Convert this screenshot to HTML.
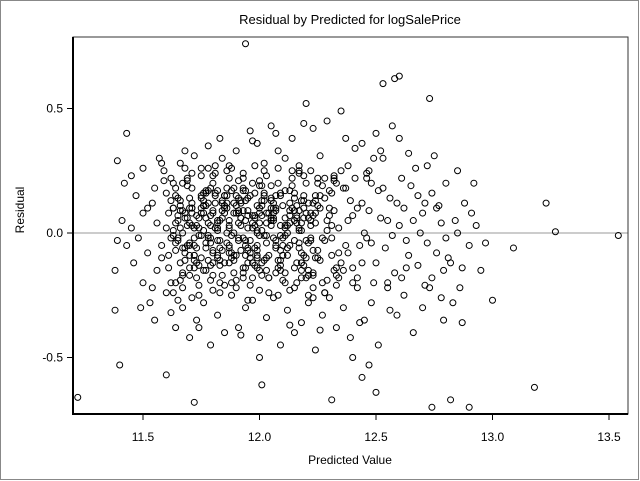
<!DOCTYPE html>
<html><head><meta charset="utf-8"><style>
html,body{margin:0;padding:0;background:#fff}
svg{display:block;font-family:"Liberation Sans",Arial,sans-serif}
</style></head><body>
<svg id="chart" width="640" height="481" viewBox="0 0 640 481">
<rect x="0.5" y="0.5" width="638" height="479" fill="#fff" stroke="#888"/>
<text x="350" y="24" text-anchor="middle" font-size="13">Residual by Predicted for logSalePrice</text>
<text x="350" y="464" text-anchor="middle" font-size="12">Predicted Value</text>
<text transform="translate(24,210) rotate(-90)" text-anchor="middle" font-size="12">Residual</text>
<g id="plot"></g>
</svg>
<script>
const xTicks = [11.5, 12.0, 12.5, 13.0, 13.5];
const xTickLabels = ["11.5", "12.0", "12.5", "13.0", "13.5"];
const yTicks = [0.5, 0.0, -0.5];
const yTickLabels = ["0.5", "0.0", "-0.5"];
const coreX = [
11.65,11.68,11.71,11.74,11.77,11.80,11.83,11.86,11.89,11.92,11.95,11.98,12.01,12.04,12.07,12.10,12.13,12.16,12.19,12.22,
11.66,11.70,11.72,11.76,11.78,11.82,11.84,11.87,11.91,11.93,11.97,11.99,12.03,12.05,12.09,12.11,12.15,12.17,12.21,12.23,
11.64,11.67,11.70,11.73,11.76,11.79,11.82,11.85,11.88,11.91,11.94,11.97,12.00,12.03,12.06,12.09,12.12,12.15,12.18,12.21,
11.65,11.69,11.71,11.75,11.77,11.81,11.83,11.87,11.89,11.93,11.95,11.99,12.01,12.05,12.07,12.11,12.13,12.17,12.19,12.23,
11.67,11.70,11.73,11.76,11.79,11.82,11.85,11.88,11.91,11.94,11.97,12.00,12.03,12.06,12.09,12.12,12.15,12.18,12.21,12.24,
11.64,11.68,11.70,11.74,11.76,11.80,11.82,11.86,11.88,11.92,11.94,11.98,12.00,12.04,12.06,12.10,12.12,12.16,12.18,12.22,
11.66,11.69,11.72,11.75,11.78,11.81,11.84,11.87,11.90,11.93,11.96,11.99,12.02,12.05,12.08,12.11,12.14,12.17,12.20,12.23,
11.63,11.66,11.69,11.72,11.75,11.78,11.81,11.84,11.87,11.90,11.93,11.96,11.99,12.02,12.05,12.08,12.11,12.14,12.17,12.20,
11.67,11.71,11.73,11.77,11.79,11.83,11.85,11.89,11.91,11.95,11.97,12.01,12.03,12.07,12.09,12.13,12.15,12.19,12.21,12.25,
11.65,11.68,11.71,11.74,11.77,11.80,11.83,11.86,11.89,11.92,11.95,11.98,12.01,12.04,12.07,12.10,12.13,12.16,12.19,12.22];
const coreY = [
0.05,-0.08,0.12,0.02,-0.15,0.09,-0.03,0.18,-0.11,0.06,0.14,-0.06,0.01,-0.18,0.10,-0.02,0.07,-0.12,0.15,0.03,
-0.12,0.10,-0.02,0.16,0.04,-0.09,0.13,-0.05,0.08,-0.16,0.02,0.11,-0.10,0.05,-0.07,0.17,-0.14,0.09,-0.04,0.12,
0.15,0.00,-0.17,0.07,0.11,-0.04,0.05,0.10,-0.20,0.14,-0.09,0.04,0.19,-0.01,0.12,-0.11,0.03,0.16,-0.08,-0.15,
-0.03,0.19,0.08,-0.10,-0.06,0.15,-0.13,0.02,0.12,-0.02,0.09,-0.14,0.07,0.13,-0.16,0.06,-0.05,0.01,0.10,-0.07,
0.09,-0.14,0.03,0.13,0.18,0.01,0.08,-0.08,0.04,0.17,-0.12,0.08,-0.04,0.10,0.03,-0.06,0.14,-0.18,0.06,0.15,
-0.07,0.06,0.14,-0.13,0.08,-0.17,0.17,0.12,-0.01,-0.07,0.05,0.16,-0.15,-0.09,0.08,0.11,-0.09,0.04,-0.12,-0.03,
0.11,-0.05,-0.09,0.10,-0.11,0.12,-0.07,-0.12,0.15,0.09,-0.03,0.00,0.13,0.06,-0.11,0.02,0.19,-0.06,0.08,0.07,
0.01,0.13,0.06,-0.05,0.14,-0.01,0.02,0.06,-0.06,0.11,0.18,-0.10,-0.07,0.15,0.05,-0.14,-0.01,0.10,0.02,-0.10,
-0.16,0.03,-0.12,0.17,-0.02,0.05,0.11,-0.16,0.09,-0.12,0.07,0.13,0.04,-0.03,0.16,0.09,0.05,-0.09,-0.17,0.11,
0.07,-0.11,0.10,-0.01,0.06,-0.12,-0.06,0.15,-0.09,0.03,-0.07,0.06,-0.12,0.08,-0.05,-0.09,0.12,0.07,0.13,-0.02];
const wideX = [
11.62,11.66,11.70,11.74,11.78,11.81,11.85,11.89,11.93,11.97,12.00,12.04,12.08,12.12,12.16,12.19,12.23,12.27,12.31,12.35,
11.63,11.67,11.71,11.75,11.79,11.82,11.86,11.90,11.94,11.98,12.01,12.05,12.09,12.13,12.17,12.20,12.24,12.28,12.32,12.36,
11.64,11.68,11.72,11.76,11.80,11.83,11.87,11.91,11.95,11.99,12.02,12.06,12.10,12.14,12.18,12.21,12.25,12.29,12.33,12.37,
11.61,11.65,11.69,11.73,11.77,11.80,11.84,11.88,11.92,11.96,11.99,12.03,12.07,12.11,12.15,12.18,12.22,12.26,12.30,12.34,
11.62,11.67,11.70,11.75,11.78,11.82,11.85,11.90,11.93,11.98,12.00,12.05,12.08,12.13,12.16,12.20,12.23,12.28,12.31,12.38,
11.63,11.66,11.71,11.74,11.79,11.81,11.86,11.89,11.94,11.97,12.01,12.04,12.09,12.12,12.17,12.19,12.24,12.27,12.32,12.40,
11.64,11.67,11.72,11.75,11.80,11.82,11.87,11.90,11.95,11.98,12.02,12.05,12.10,12.13,12.18,12.20,12.25,12.28,12.33,12.42,
11.62,11.65,11.70,11.73,11.78,11.80,11.85,11.88,11.93,11.96,12.00,12.03,12.08,12.11,12.16,12.18,12.23,12.26,12.31,12.44,
11.63,11.68,11.71,11.76,11.79,11.83,11.86,11.91,11.94,11.99,12.01,12.06,12.09,12.14,12.17,12.21,12.24,12.29,12.32,12.46,
11.64,11.69,11.72,11.77,11.80,11.84,11.87,11.92,11.95,12.00,12.02,12.07,12.10,12.15,12.18,12.22,12.25,12.30,12.33,12.48];
const wideY = [
0.22,-0.19,0.04,-0.25,0.17,0.27,-0.21,0.00,0.24,-0.18,0.21,-0.24,0.26,0.00,-0.20,0.23,-0.26,0.19,-0.02,0.25,
-0.24,0.20,-0.26,0.23,-0.19,0.02,0.25,-0.22,-0.03,0.27,-0.17,0.19,-0.01,-0.23,0.24,-0.18,0.04,-0.24,0.21,-0.15,
0.04,0.26,-0.14,0.01,0.23,-0.24,0.03,0.21,-0.27,0.01,0.25,-0.02,-0.19,0.22,0.01,-0.25,0.20,0.05,-0.21,0.18,
-0.09,-0.02,0.21,-0.18,-0.04,0.20,-0.17,0.26,0.06,-0.21,-0.05,0.23,0.09,-0.16,-0.22,0.13,0.25,-0.11,0.17,-0.08,
0.13,-0.17,-0.05,0.08,0.26,-0.10,0.15,-0.19,0.17,0.07,-0.23,0.03,-0.25,0.17,0.11,-0.03,-0.16,0.22,-0.09,0.05,
-0.01,0.09,0.18,-0.21,-0.13,0.16,-0.04,0.08,-0.14,0.20,0.11,-0.18,0.15,-0.06,0.27,-0.13,0.08,-0.02,0.23,-0.20,
0.18,-0.22,0.02,0.15,-0.08,-0.03,0.22,-0.09,0.02,-0.13,0.16,0.10,-0.09,0.04,-0.12,0.20,-0.07,0.14,-0.14,0.10,
-0.20,0.14,-0.09,-0.06,0.12,0.08,-0.12,0.17,-0.18,0.15,-0.01,-0.15,0.20,-0.20,0.06,0.04,-0.22,0.10,0.03,-0.12,
0.10,-0.06,0.24,-0.15,0.03,-0.20,0.10,-0.02,0.13,-0.09,0.19,0.06,-0.13,0.25,-0.04,-0.17,0.13,-0.19,0.09,0.22,
-0.04,0.03,-0.11,0.11,-0.23,0.12,-0.08,0.13,-0.06,0.04,-0.11,0.15,-0.05,0.09,-0.15,0.08,-0.10,0.07,-0.17,-0.04];
const otherPts = [
[11.22,-0.66],[11.94,0.76],[13.54,-0.01],[13.27,0.005],[13.23,0.12],[13.18,-0.62],[13.09,-0.06],[13.0,-0.27],[12.97,-0.04],[12.92,0.2],
[12.9,-0.7],[12.87,-0.36],[12.82,-0.67],[12.74,-0.7],[12.6,0.63],[12.58,0.62],[12.73,0.54],[12.53,0.6],[11.43,0.4],[11.39,0.29],
[11.38,-0.31],[11.4,-0.53],[11.6,-0.57],[11.72,-0.68],[12.01,-0.61],[12.31,-0.67],[12.5,-0.64],[12.44,-0.58],[12.47,-0.53],[12.4,-0.5],[12.0,-0.5],
[11.45,0.23],[11.47,0.15],[11.50,0.26],[11.52,0.10],[11.48,-0.02],[11.46,-0.12],[11.50,-0.20],[11.53,-0.28],[11.55,0.18],[11.57,0.30],
[11.58,-0.05],[11.56,-0.15],[11.59,0.25],[11.60,-0.24],[11.61,0.08],[11.62,-0.32],[11.63,0.20],[11.64,-0.38],[11.66,0.28],[11.67,-0.30],
[11.69,0.22],[11.70,-0.42],[11.72,0.31],[11.73,-0.35],[11.75,0.26],[11.76,-0.28],[11.78,0.35],[11.79,-0.45],[11.81,0.24],[11.82,-0.33],
[11.84,0.30],[11.85,-0.40],[11.87,0.27],[11.88,-0.25],[11.90,0.33],[11.91,-0.38],[11.93,0.22],[11.94,-0.30],[11.96,0.41],[11.97,-0.27],
[11.99,0.36],[12.00,-0.42],[12.02,0.28],[12.03,-0.34],[12.05,0.43],[12.06,-0.26],[12.08,0.33],[12.09,-0.45],[12.11,0.30],[12.12,-0.31],
[12.14,0.38],[12.15,-0.40],[12.17,0.25],[12.18,-0.36],[12.20,0.52],[12.21,-0.28],[12.23,0.42],[12.24,-0.47],[12.26,0.31],[12.27,-0.33],
[12.29,0.45],[12.30,-0.26],[12.32,0.22],[12.33,-0.38],[12.35,0.49],[12.36,-0.30],[12.38,0.27],[12.39,-0.42],[12.41,0.34],[12.42,-0.22],
[12.44,0.36],[12.45,-0.35],[12.47,0.25],[12.48,-0.28],[12.50,0.40],[12.51,-0.45],[12.53,0.30],[12.55,-0.20],[12.57,0.43],[12.59,-0.33],
[12.61,0.22],[12.62,-0.25],[12.64,0.32],[12.66,-0.40],[12.68,0.15],[12.70,-0.30],[12.72,0.27],[12.74,-0.18],[12.76,0.10],[12.78,-0.26],
[12.80,0.20],[12.82,-0.12],[12.84,0.05],[12.86,-0.22],[12.88,0.12],[12.90,-0.05],[12.93,0.03],[12.95,-0.15],[12.85,0.25],[12.79,-0.35],
[12.22,0.05],[12.24,-0.10],[12.26,0.15],[12.28,-0.03],[12.30,0.10],[12.32,-0.15],[12.34,0.02],[12.36,0.18],[12.38,-0.08],[12.40,0.07],
[12.42,-0.18],[12.44,0.12],[12.46,-0.02],[12.48,0.20],[12.50,-0.12],[12.52,0.06],[12.54,-0.06],[12.56,0.14],[12.58,-0.16],[12.60,0.03],
[12.62,0.10],[12.64,-0.09],[12.66,0.05],[12.68,-0.13],[12.70,0.08],[12.72,-0.04],[12.74,0.16],[12.76,-0.08],[12.78,0.04],[12.80,-0.02],
[12.25,0.22],[12.27,-0.20],[12.31,0.16],[12.35,-0.12],[12.39,0.13],[12.43,-0.05],[12.47,0.09],[12.51,0.17],[12.55,-0.22],[12.59,0.12],
[12.23,-0.17],[12.29,0.01],[12.33,0.20],[12.37,-0.05],[12.41,0.22],[12.45,0.00],[12.49,-0.20],[12.53,0.18],[12.57,-0.01],[12.61,-0.18],
[12.65,0.19],[12.69,0.00],[12.73,-0.22],[12.77,0.11],[12.81,-0.10],[12.21,0.12],[12.28,-0.24],[12.34,-0.18],[12.40,-0.14],[12.46,0.24],
[11.41,0.05],[11.43,-0.05],[11.45,0.02],[11.50,0.08],[11.52,-0.08],[11.54,0.12],[11.56,0.04],[11.58,-0.10],[11.60,0.16],[11.62,-0.02],
[11.38,-0.15],[11.39,-0.03],[11.42,0.20],[11.49,-0.30],[11.55,-0.35],[11.59,0.21],[11.61,-0.14],[11.63,0.10],[11.64,-0.20],[11.60,0.02],
[11.66,0.02],[11.70,-0.04],[11.74,0.06],[11.78,-0.02],[11.82,0.04],[11.86,0.00],[11.90,0.08],[11.94,-0.05],[11.98,0.03],[12.02,-0.01],
[12.06,0.05],[11.68,0.08],[11.72,-0.09],[11.76,0.11],[11.80,-0.07],[11.84,0.09],[11.88,-0.10],[11.92,0.12],[11.96,-0.08],[12.00,0.10],
[11.67,-0.06],[11.71,0.10],[11.75,-0.01],[11.79,0.07],[11.83,-0.11],[11.87,0.05],[11.91,-0.03],[11.95,0.07],[11.99,-0.10],[12.03,0.08],
[12.07,-0.06],[12.11,0.03],[12.15,-0.03],[12.19,0.06],[11.85,0.15],[11.93,-0.14],[12.05,0.14],[11.77,0.16],[11.89,0.18],[12.09,-0.15],
[12.52,0.33],[12.56,-0.31],[12.60,0.38],[12.63,-0.14],[12.67,0.26],[12.71,-0.21],[12.75,0.31],[12.83,-0.28],[12.87,-0.14],[12.91,0.08],
[12.37,0.38],[12.43,-0.36],[12.49,0.30],[12.26,-0.39],[12.19,0.44],[12.13,-0.37],[12.07,0.40],[11.97,0.37],[11.92,-0.41],[11.83,0.38],
[11.74,-0.38],[11.68,0.33],[11.65,-0.27],[11.58,0.28],[11.54,-0.22],[12.55,0.05],[12.63,-0.03],[12.71,0.12],[12.79,-0.15],[12.85,0.00]];

const L = 73, R = 628, T = 37, B = 414;
function sx(v){ return 143 + (v - 11.5) * 233; }
function sy(v){ return 233 - v * 249; }
const NS = "http://www.w3.org/2000/svg";
const g = document.getElementById('plot');
function mk(tag, attrs){ const e = document.createElementNS(NS, tag); for (const k in attrs) e.setAttribute(k, attrs[k]); return e; }

const ref = mk('line', {x1:L, x2:R, y1:sy(0), y2:sy(0), stroke:'#999', 'stroke-width':1});


g.appendChild(ref);

const frame = mk('rect', {x:L, y:T, width:R-L, height:B-T, fill:'none', stroke:'#333', 'stroke-width':1});


g.appendChild(frame);
const axL = mk('line', {x1:L, x2:L, y1:T, y2:B+1, stroke:'#000', 'stroke-width':2});


g.appendChild(axL);
const axB = mk('line', {x1:L-1, x2:R, y1:B, y2:B, stroke:'#000', 'stroke-width':2});


g.appendChild(axB);

xTicks.forEach((v, i) => {
  const t = mk('line', {x1:sx(v), x2:sx(v), y1:B, y2:B+6, stroke:'#000'});
  
  
  g.appendChild(t);
  const lb = mk('text', {x:sx(v), y:B+27, 'text-anchor':'middle', 'font-size':12});
  lb.textContent = xTickLabels[i];
  
  
  g.appendChild(lb);
});
yTicks.forEach((v, i) => {
  const t = mk('line', {x1:L-6, x2:L, y1:sy(v), y2:sy(v), stroke:'#000'});
  
  
  g.appendChild(t);
  const lb = mk('text', {x:L-10, y:sy(v)+4, 'text-anchor':'end', 'font-size':12});
  lb.textContent = yTickLabels[i];
  
  
  g.appendChild(lb);
});

function dot(x, y){
  const c = mk('circle', {cx:sx(x), cy:sy(y), r:3, fill:'none', stroke:'#000', 'stroke-width':1});
  
  
  g.appendChild(c);
}
for (let i = 0; i < coreX.length; i++) dot(coreX[i], coreY[i]);
for (let i = 0; i < wideX.length; i++) dot(wideX[i], wideY[i]);
otherPts.forEach(p => dot(p[0], p[1]));
</script>
</body></html>
